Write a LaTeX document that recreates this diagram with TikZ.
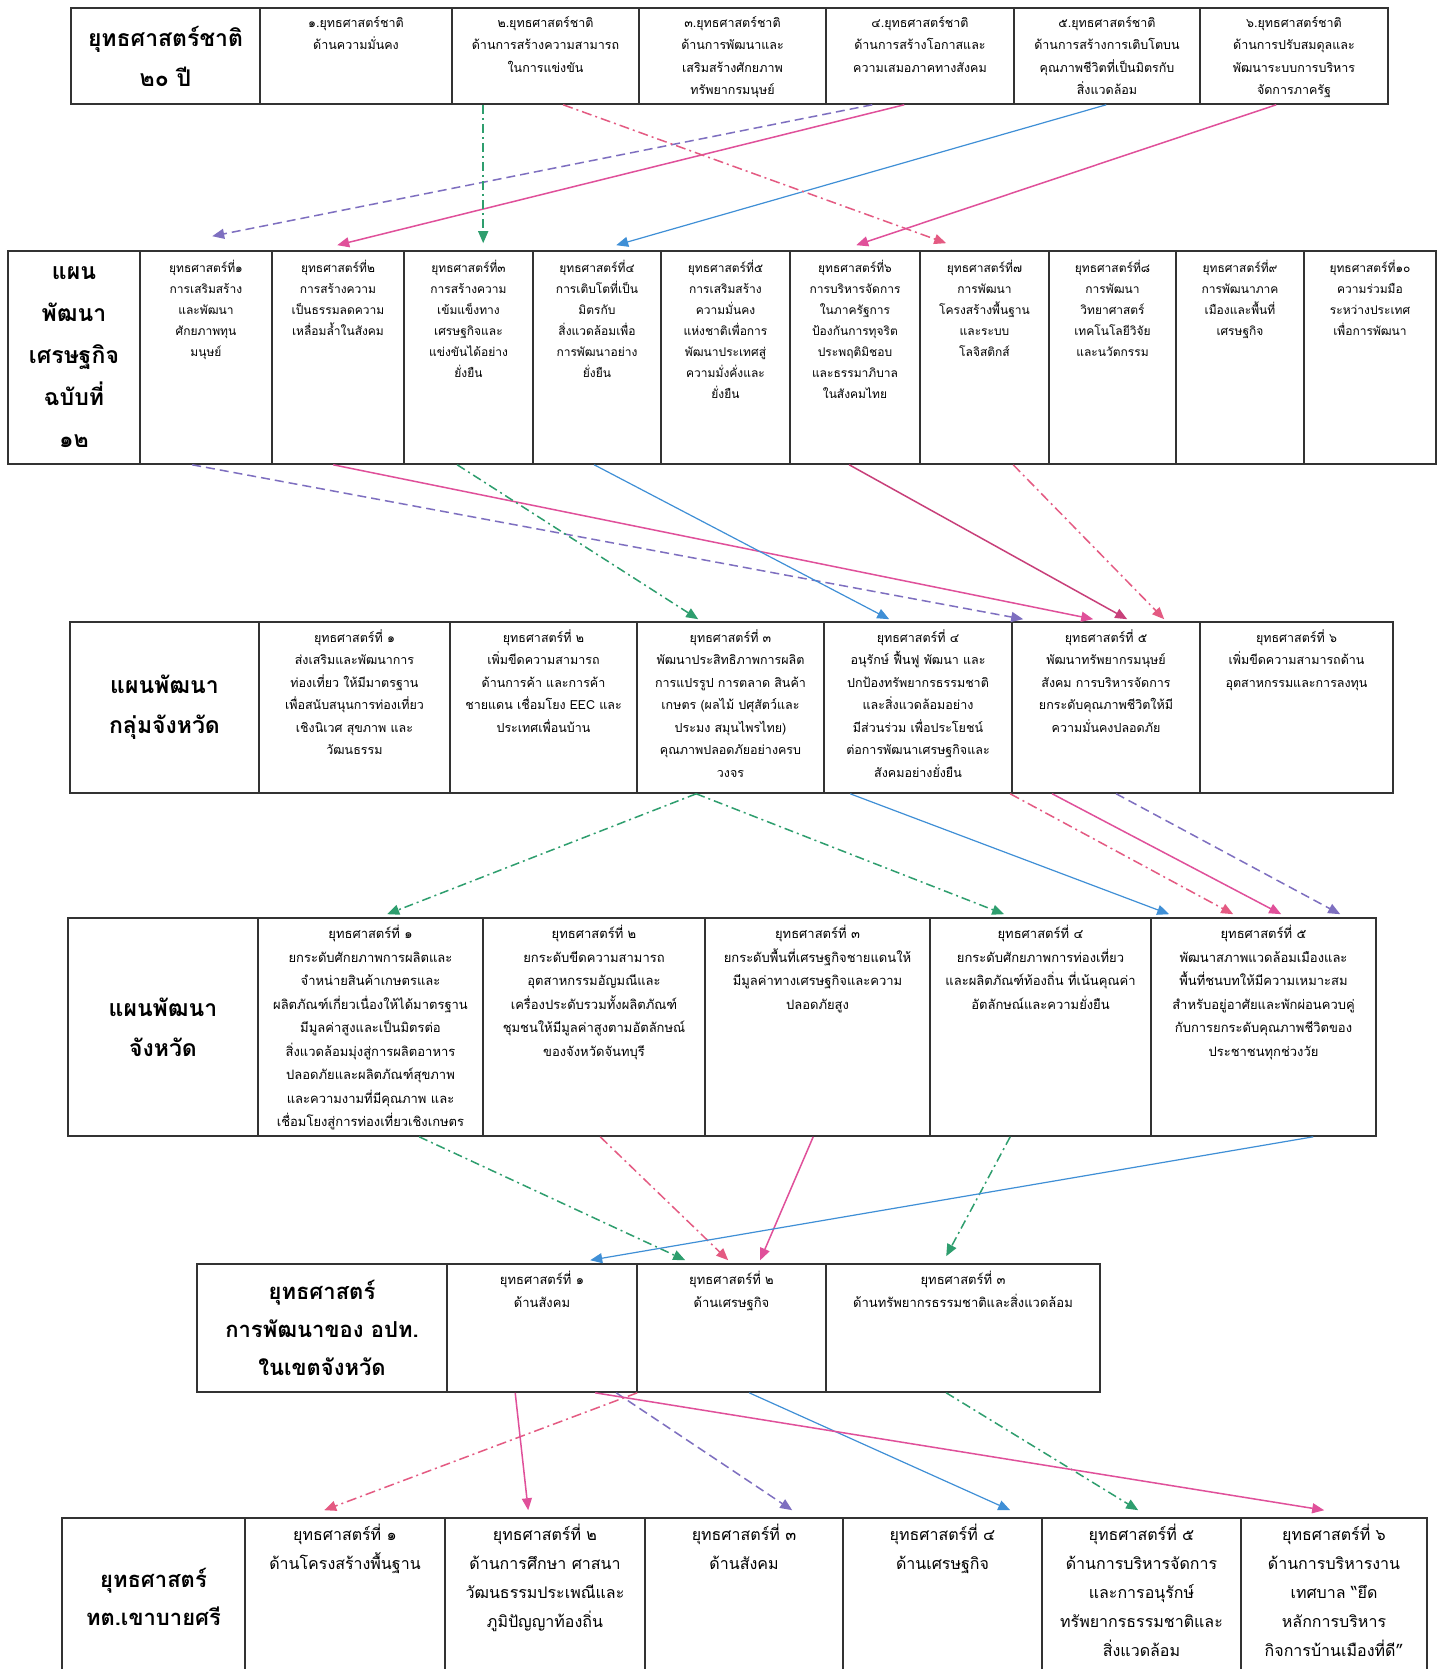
\documentclass[tikz,border=0pt]{standalone}
\usepackage{fontspec}
\setmainfont[Script=Thai]{Loma}
\usetikzlibrary{arrows.meta,fit}
\definecolor{cpur}{HTML}{7E6FC0}
\definecolor{cpink}{HTML}{E0509A}
\definecolor{cmag}{HTML}{C8407A}
\definecolor{cgreen}{HTML}{2E9E6E}
\definecolor{cblue}{HTML}{3F8FD6}
\definecolor{cpdd}{HTML}{E45A82}
\begin{document}
\begin{tikzpicture}[x=1pt,y=-1pt,
  cell/.style={draw=black!80, line width=1.6pt, inner sep=0pt},
  lab/.style={align=center, inner sep=0pt, font=\fontsize{23}{40}\selectfont\bfseries},
  tx/.style={anchor=north, align=center, inner sep=0pt},
  fa/.style={tx, font=\fontsize{12.5}{22.5}\selectfont},
  fb/.style={tx, font=\fontsize{12}{21}\selectfont},
  fc/.style={tx, font=\fontsize{12.5}{22.5}\selectfont},
  fd/.style={tx, font=\fontsize{13}{23.5}\selectfont},
  fe/.style={tx, font=\fontsize{13}{22.5}\selectfont},
  ff/.style={tx, font=\fontsize{16}{29}\selectfont},
  con/.style={line width=1.5pt, -{Triangle[length=12pt,width=10pt]}},
  purl/.style={con, cpur, dash pattern=on 9pt off 5pt},
  pinks/.style={con, cpink},
  mags/.style={con, cmag},
  grn/.style={con, cgreen, dash pattern=on 9pt off 4pt on 2pt off 4pt},
  blu/.style={con, cblue, line width=1.2pt},
  pdd/.style={con, cpdd, dash pattern=on 10pt off 4pt on 2pt off 4pt}]
\fill[white] (0,0) rectangle (1445,1669);
\useasboundingbox (0,0) rectangle (1445,1669);
\clip (0,0) rectangle (1445,1669);

% ---------------- Row 1
\foreach \i/\a/\b in {1/71/260,2/260/452,3/452/639,4/639/826,5/826/1014,6/1014/1200,7/1200/1388}
  \node[cell, fit={(\a,8) (\b,104)}] (r1c\i) {};
\node[lab] (r1t1) at (r1c1.center) {ยุทธศาสตร์ชาติ\\๒๐ ปี};
\node[fa] (r1t2) at ([yshift=-9pt]r1c2.north) {๑.ยุทธศาสตร์ชาติ\\ด้านความมั่นคง};
\node[fa] (r1t3) at ([yshift=-9pt]r1c3.north) {๒.ยุทธศาสตร์ชาติ\\ด้านการสร้างความสามารถ\\ในการแข่งขัน};
\node[fa] (r1t4) at ([yshift=-9pt]r1c4.north) {๓.ยุทธศาสตร์ชาติ\\ด้านการพัฒนาและ\\เสริมสร้างศักยภาพ\\ทรัพยากรมนุษย์};
\node[fa] (r1t5) at ([yshift=-9pt]r1c5.north) {๔.ยุทธศาสตร์ชาติ\\ด้านการสร้างโอกาสและ\\ความเสมอภาคทางสังคม};
\node[fa] (r1t6) at ([yshift=-9pt]r1c6.north) {๕.ยุทธศาสตร์ชาติ\\ด้านการสร้างการเติบโตบน\\คุณภาพชีวิตที่เป็นมิตรกับ\\สิ่งแวดล้อม};
\node[fa] (r1t7) at ([yshift=-9pt]r1c7.north) {๖.ยุทธศาสตร์ชาติ\\ด้านการปรับสมดุลและ\\พัฒนาระบบการบริหาร\\จัดการภาครัฐ};

% ---------------- Row 2
\foreach \i/\a/\b in {1/8/140,2/140/272,3/272/404,4/404/533,5/533/661,6/661/790,7/790/920,8/920/1049,9/1049/1176,10/1176/1304,11/1304/1436}
  \node[cell, fit={(\a,251) (\b,464)}] (r2c\i) {};
\node[lab, font=\fontsize{23}{42}\selectfont\bfseries] (r2t1) at (r2c1.center) {แผน\\พัฒนา\\เศรษฐกิจ\\ฉบับที่\\๑๒};
\node[fb] (r2t2) at ([yshift=-10pt]r2c2.north) {ยุทธศาสตร์ที่๑\\การเสริมสร้าง\\และพัฒนา\\ศักยภาพทุน\\มนุษย์};
\node[fb] (r2t3) at ([yshift=-10pt]r2c3.north) {ยุทธศาสตร์ที่๒\\การสร้างความ\\เป็นธรรมลดความ\\เหลื่อมล้ำในสังคม};
\node[fb] (r2t4) at ([yshift=-10pt]r2c4.north) {ยุทธศาสตร์ที่๓\\การสร้างความ\\เข้มแข็งทาง\\เศรษฐกิจและ\\แข่งขันได้อย่าง\\ยั่งยืน};
\node[fb] (r2t5) at ([yshift=-10pt]r2c5.north) {ยุทธศาสตร์ที่๔\\การเติบโตที่เป็น\\มิตรกับ\\สิ่งแวดล้อมเพื่อ\\การพัฒนาอย่าง\\ยั่งยืน};
\node[fb] (r2t6) at ([yshift=-10pt]r2c6.north) {ยุทธศาสตร์ที่๕\\การเสริมสร้าง\\ความมั่นคง\\แห่งชาติเพื่อการ\\พัฒนาประเทศสู่\\ความมั่งคั่งและ\\ยั่งยืน};
\node[fb] (r2t7) at ([yshift=-10pt]r2c7.north) {ยุทธศาสตร์ที่๖\\การบริหารจัดการ\\ในภาครัฐการ\\ป้องกันการทุจริต\\ประพฤติมิชอบ\\และธรรมาภิบาล\\ในสังคมไทย};
\node[fb] (r2t8) at ([yshift=-10pt]r2c8.north) {ยุทธศาสตร์ที่๗\\การพัฒนา\\โครงสร้างพื้นฐาน\\และระบบ\\โลจิสติกส์};
\node[fb] (r2t9) at ([yshift=-10pt]r2c9.north) {ยุทธศาสตร์ที่๘\\การพัฒนา\\วิทยาศาสตร์\\เทคโนโลยีวิจัย\\และนวัตกรรม};
\node[fb] (r2t10) at ([yshift=-10pt]r2c10.north) {ยุทธศาสตร์ที่๙\\การพัฒนาภาค\\เมืองและพื้นที่\\เศรษฐกิจ};
\node[fb] (r2t11) at ([yshift=-10pt]r2c11.north) {ยุทธศาสตร์ที่๑๐\\ความร่วมมือ\\ระหว่างประเทศ\\เพื่อการพัฒนา};

% ---------------- Row 3
\foreach \i/\a/\b in {1/70/259,2/259/450,3/450/637,4/637/824,5/824/1012,6/1012/1200,7/1200/1393}
  \node[cell, fit={(\a,622) (\b,793)}] (r3c\i) {};
\node[lab] (r3t1) at (r3c1.center) {แผนพัฒนา\\กลุ่มจังหวัด};
\node[fc] (r3t2) at ([yshift=-8pt]r3c2.north) {ยุทธศาสตร์ที่ ๑\\ส่งเสริมและพัฒนาการ\\ท่องเที่ยว ให้มีมาตรฐาน\\เพื่อสนับสนุนการท่องเที่ยว\\เชิงนิเวศ สุขภาพ และ\\วัฒนธรรม};
\node[fc] (r3t3) at ([yshift=-8pt]r3c3.north) {ยุทธศาสตร์ที่ ๒\\เพิ่มขีดความสามารถ\\ด้านการค้า และการค้า\\ชายแดน เชื่อมโยง EEC และ\\ประเทศเพื่อนบ้าน};
\node[fc] (r3t4) at ([yshift=-8pt]r3c4.north) {ยุทธศาสตร์ที่ ๓\\พัฒนาประสิทธิภาพการผลิต\\การแปรรูป การตลาด สินค้า\\เกษตร (ผลไม้ ปศุสัตว์และ\\ประมง สมุนไพรไทย)\\คุณภาพปลอดภัยอย่างครบ\\วงจร};
\node[fc] (r3t5) at ([yshift=-8pt]r3c5.north) {ยุทธศาสตร์ที่ ๔\\อนุรักษ์ ฟื้นฟู พัฒนา และ\\ปกป้องทรัพยากรธรรมชาติ\\และสิ่งแวดล้อมอย่าง\\มีส่วนร่วม เพื่อประโยชน์\\ต่อการพัฒนาเศรษฐกิจและ\\สังคมอย่างยั่งยืน};
\node[fc] (r3t6) at ([yshift=-8pt]r3c6.north) {ยุทธศาสตร์ที่ ๕\\พัฒนาทรัพยากรมนุษย์\\สังคม การบริหารจัดการ\\ยกระดับคุณภาพชีวิตให้มี\\ความมั่นคงปลอดภัย};
\node[fc] (r3t7) at ([yshift=-8pt]r3c7.north) {ยุทธศาสตร์ที่ ๖\\เพิ่มขีดความสามารถด้าน\\อุตสาหกรรมและการลงทุน};

% ---------------- Row 4
\foreach \i/\a/\b in {1/68/258,2/258/483,3/483/705,4/705/930,5/930/1151,6/1151/1376}
  \node[cell, fit={(\a,918) (\b,1136)}] (r4c\i) {};
\node[lab] (r4t1) at (r4c1.center) {แผนพัฒนา\\จังหวัด};
\node[fd] (r4t2) at ([yshift=-8pt]r4c2.north) {ยุทธศาสตร์ที่ ๑\\ยกระดับศักยภาพการผลิตและ\\จำหน่ายสินค้าเกษตรและ\\ผลิตภัณฑ์เกี่ยวเนื่องให้ได้มาตรฐาน\\มีมูลค่าสูงและเป็นมิตรต่อ\\สิ่งแวดล้อมมุ่งสู่การผลิตอาหาร\\ปลอดภัยและผลิตภัณฑ์สุขภาพ\\และความงามที่มีคุณภาพ และ\\เชื่อมโยงสู่การท่องเที่ยวเชิงเกษตร};
\node[fd] (r4t3) at ([yshift=-8pt]r4c3.north) {ยุทธศาสตร์ที่ ๒\\ยกระดับขีดความสามารถ\\อุตสาหกรรมอัญมณีและ\\เครื่องประดับรวมทั้งผลิตภัณฑ์\\ชุมชนให้มีมูลค่าสูงตามอัตลักษณ์\\ของจังหวัดจันทบุรี};
\node[fd] (r4t4) at ([yshift=-8pt]r4c4.north) {ยุทธศาสตร์ที่ ๓\\ยกระดับพื้นที่เศรษฐกิจชายแดนให้\\มีมูลค่าทางเศรษฐกิจและความ\\ปลอดภัยสูง};
\node[fd] (r4t5) at ([yshift=-8pt]r4c5.north) {ยุทธศาสตร์ที่ ๔\\ยกระดับศักยภาพการท่องเที่ยว\\และผลิตภัณฑ์ท้องถิ่น ที่เน้นคุณค่า\\อัตลักษณ์และความยั่งยืน};
\node[fd] (r4t6) at ([yshift=-8pt]r4c6.north) {ยุทธศาสตร์ที่ ๕\\พัฒนาสภาพแวดล้อมเมืองและ\\พื้นที่ชนบทให้มีความเหมาะสม\\สำหรับอยู่อาศัยและพักผ่อนควบคู่\\กับการยกระดับคุณภาพชีวิตของ\\ประชาชนทุกช่วงวัย};

% ---------------- Row 5
\foreach \i/\a/\b in {1/197/447,2/447/637,3/637/826,4/826/1100}
  \node[cell, fit={(\a,1264) (\b,1392)}] (r5c\i) {};
\node[lab, font=\fontsize{22}{38}\selectfont\bfseries] (r5t1) at (r5c1.center) {ยุทธศาสตร์\\การพัฒนาของ อปท.\\ในเขตจังหวัด};
\node[fe] (r5t2) at ([yshift=-8pt]r5c2.north) {ยุทธศาสตร์ที่ ๑\\ด้านสังคม};
\node[fe] (r5t3) at ([yshift=-8pt]r5c3.north) {ยุทธศาสตร์ที่ ๒\\ด้านเศรษฐกิจ};
\node[fe] (r5t4) at ([yshift=-8pt]r5c4.north) {ยุทธศาสตร์ที่ ๓\\ด้านทรัพยากรธรรมชาติและสิ่งแวดล้อม};

% ---------------- Row 6
\foreach \i/\a/\b in {1/62/245,2/245/445,3/445/645,4/645/843,5/843/1042,6/1042/1241,7/1241/1427}
  \node[cell, fit={(\a,1518) (\b,1676)}] (r6c\i) {};
\node[lab, font=\fontsize{22}{38}\selectfont\bfseries] (r6t1) at (r6c1.center) {ยุทธศาสตร์\\ทต.เขาบายศรี};
\node[ff] (r6t2) at ([yshift=-7pt]r6c2.north) {ยุทธศาสตร์ที่ ๑\\ด้านโครงสร้างพื้นฐาน};
\node[ff] (r6t3) at ([yshift=-7pt]r6c3.north) {ยุทธศาสตร์ที่ ๒\\ด้านการศึกษา ศาสนา\\วัฒนธรรมประเพณีและ\\ภูมิปัญญาท้องถิ่น};
\node[ff] (r6t4) at ([yshift=-7pt]r6c4.north) {ยุทธศาสตร์ที่ ๓\\ด้านสังคม};
\node[ff] (r6t5) at ([yshift=-7pt]r6c5.north) {ยุทธศาสตร์ที่ ๔\\ด้านเศรษฐกิจ};
\node[ff] (r6t6) at ([yshift=-7pt]r6c6.north) {ยุทธศาสตร์ที่ ๕\\ด้านการบริหารจัดการ\\และการอนุรักษ์\\ทรัพยากรธรรมชาติและ\\สิ่งแวดล้อม};
\node[ff] (r6t7) at ([yshift=-7pt]r6c7.north) {ยุทธศาสตร์ที่ ๖\\ด้านการบริหารงาน\\เทศบาล “ยึด\\หลักการบริหาร\\กิจการบ้านเมืองที่ดี”};

% ---------------- Connectors row 1 -> row 2
\draw[purl]  ([xshift=47pt]r1c5.south west)  -- ([xshift=73pt,yshift=14pt]r2c2.north west);
\draw[pinks] ([xshift=79pt]r1c5.south west)  -- ([xshift=66pt,yshift=5pt]r2c3.north west);
\draw[grn]   ([xshift=32pt]r1c3.south west)  -- ([xshift=80pt,yshift=7pt]r2c4.north west);
\draw[blu]   ([xshift=93pt]r1c6.south west)  -- ([xshift=84pt,yshift=5pt]r2c5.north west);
\draw[pdd]   ([xshift=112pt]r1c3.south west) -- ([xshift=27pt,yshift=7pt]r2c8.north west);
\draw[pinks] ([xshift=77pt]r1c7.south west)  -- ([xshift=67pt,yshift=5pt]r2c7.north west);

% ---------------- Connectors row 2 -> row 3
\draw[purl]  ([xshift=53pt]r2c2.south west) -- ([xshift=12pt,yshift=2pt]r3c6.north west);
\draw[pinks] ([xshift=62pt]r2c3.south west) -- ([xshift=82pt,yshift=2pt]r3c6.north west);
\draw[grn]   ([xshift=54pt]r2c4.south west) -- ([xshift=62pt,yshift=2pt]r3c4.north west);
\draw[blu]   ([xshift=62pt]r2c5.south west) -- ([xshift=66pt,yshift=2pt]r3c5.north west);
\draw[mags]  ([xshift=60pt]r2c7.south west) -- ([xshift=116pt,yshift=2pt]r3c6.north west);
\draw[pdd]   ([xshift=94pt]r2c8.south west) -- ([xshift=153pt,yshift=2pt]r3c6.north west);

% ---------------- Connectors row 3 -> row 4
\draw[grn]   ([xshift=60pt]r3c4.south west)  -- ([xshift=130pt,yshift=3pt]r4c2.north west);
\draw[grn]   ([xshift=60pt]r3c4.south west)  -- ([xshift=75pt,yshift=3pt]r4c5.north west);
\draw[blu]   ([xshift=27pt]r3c5.south west)  -- ([xshift=19pt,yshift=3pt]r4c6.north west);
\draw[pdd]   ([xshift=187pt]r3c5.south west) -- ([xshift=83pt,yshift=3pt]r4c6.north west);
\draw[pinks] ([xshift=41pt]r3c6.south west)  -- ([xshift=131pt,yshift=3pt]r4c6.north west);
\draw[purl]  ([xshift=105pt]r3c6.south west) -- ([xshift=190pt,yshift=3pt]r4c6.north west);

% ---------------- Connectors row 4 -> row 5
\draw[grn]   ([xshift=162pt]r4c2.south west) -- ([xshift=49pt,yshift=3pt]r5c3.north west);
\draw[pdd]   ([xshift=118pt]r4c3.south west) -- ([xshift=92pt,yshift=3pt]r5c3.north west);
\draw[pinks] ([xshift=109pt]r4c4.south west) -- ([xshift=124pt,yshift=3pt]r5c3.north west);
\draw[grn]   ([xshift=81pt]r4c5.south west)  -- ([xshift=121pt,yshift=7pt]r5c4.north west);
\draw[blu]   ([xshift=163pt]r4c6.south west) -- ([xshift=144pt,yshift=3pt]r5c2.north west);

% ---------------- Connectors row 5 -> row 6
\draw[pdd]   ([xshift=1pt]r5c3.south west)   -- ([xshift=80pt,yshift=7pt]r6c2.north west);
\draw[pinks] ([xshift=69pt]r5c2.south west)  -- ([xshift=84pt,yshift=7pt]r6c3.north west);
\draw[purl]  ([xshift=170pt]r5c2.south west) -- ([xshift=148pt,yshift=7pt]r6c4.north west);
\draw[blu]   ([xshift=113pt]r5c3.south west) -- ([xshift=168pt,yshift=7pt]r6c5.north west);
\draw[grn]   ([xshift=121pt]r5c4.south west) -- ([xshift=97pt,yshift=7pt]r6c6.north west);
\draw[pinks] ([xshift=149pt]r5c2.south west) -- ([xshift=84pt,yshift=7pt]r6c7.north west);
\end{tikzpicture}
\end{document}
